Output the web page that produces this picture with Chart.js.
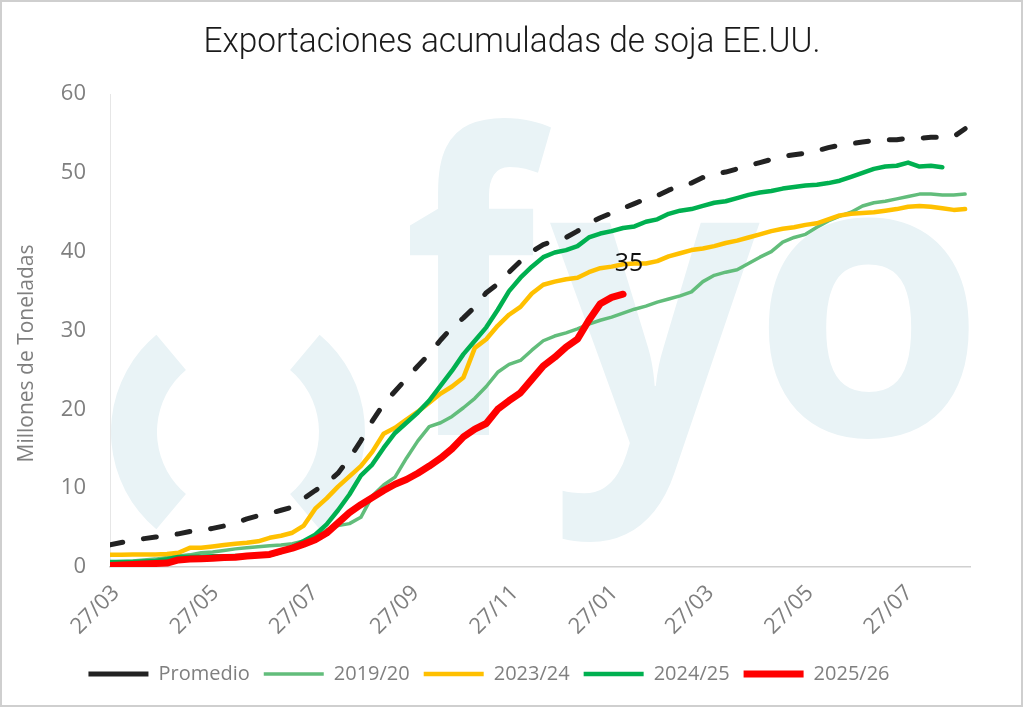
<!DOCTYPE html>
<html>
<head>
<meta charset="utf-8">
<title>Exportaciones acumuladas de soja EE.UU.</title>
<script src="https://cdn.jsdelivr.net/npm/chart.js@4.4.1/dist/chart.umd.min.js"></script>
<style>
  html, body { margin: 0; padding: 0; background: #ffffff; }
  #wrap { width: 1024px; height: 707px; position: relative; }
  canvas { display: block; }
</style>
</head>
<body>
<div id="wrap"><canvas id="grafico" width="1024" height="707"></canvas></div>
<script>
const titulo = 'Exportaciones acumuladas de soja EE.UU.';
const tituloEjeY = 'Millones de Toneladas';

// Días transcurridos desde el 27/03 para cada semana de la campaña
const semanas = Array.from({ length: 76 }, (_, i) => i * 7);

// Etiquetas del eje X y su posición en días desde el 27/03
const etiquetasX = ['27/03', '27/05', '27/07', '27/09', '27/11', '27/01', '27/03', '27/05', '27/07'];
const diasEtiquetas = [0, 61, 122, 184, 245, 306, 365, 426, 487];

// Exportaciones acumuladas (millones de toneladas)
const promedio = [
  2.8, 3.1, 3.4, 3.6, 3.8, 4.0, 4.2, 4.5, 4.6, 4.9,
  5.2, 5.6, 6.1, 6.5, 6.8, 7.2, 7.6, 8.7, 9.7, 10.6,
  11.9, 13.8, 16.0, 18.5, 20.7, 22.3, 23.9, 25.5, 27.0, 28.8,
  30.4, 31.6, 33.0, 34.8, 35.9, 37.4, 38.8, 40.0, 40.9, 41.4,
  41.8, 42.6, 43.6, 44.3, 44.9, 45.5, 46.1, 46.7, 47.1, 47.8,
  48.4, 48.7, 49.4, 49.9, 50.1, 50.5, 50.9, 51.3, 51.7, 52.1,
  52.3, 52.5, 52.8, 53.2, 53.5, 53.7, 53.9, 54.1, 54.2, 54.2,
  54.4, 54.4, 54.5, 54.5, 54.6, 55.6
];
const campana1920 = [
  0.64, 0.7, 0.77, 0.9, 1.0, 1.2, 1.4, 1.54, 1.8, 1.9,
  2.1, 2.3, 2.43, 2.56, 2.7, 2.8, 2.95, 3.3, 3.84, 4.7,
  5.25, 5.5, 6.3, 9.0, 10.4, 11.4, 13.8, 16.0, 17.8, 18.3,
  19.1, 20.2, 21.4, 22.9, 24.7, 25.7, 26.2, 27.5, 28.7, 29.3,
  29.7, 30.2, 30.8, 31.3, 31.7, 32.2, 32.7, 33.1, 33.6, 34.0,
  34.4, 34.9, 36.2, 37.0, 37.4, 37.7, 38.5, 39.3, 40.0, 41.2,
  41.8, 42.2, 43.1, 43.9, 44.5, 45.0, 45.8, 46.2, 46.4, 46.7,
  47.0, 47.3, 47.3, 47.2, 47.2, 47.3
];
const campana2324 = [
  1.54, 1.54, 1.6, 1.6, 1.6, 1.66, 1.8, 2.43, 2.43, 2.6,
  2.8, 2.95, 3.07, 3.26, 3.7, 3.97, 4.35, 5.25, 7.4, 8.7,
  10.2, 11.5, 12.8, 14.6, 16.9, 17.65, 18.7, 19.7, 20.85, 22.0,
  22.9, 24.05, 27.8, 28.9, 30.6, 32.0, 33.0, 34.7, 35.8, 36.2,
  36.5, 36.7, 37.4, 37.9, 38.1, 38.4, 38.5, 38.5, 38.8, 39.4,
  39.8, 40.2, 40.4, 40.7, 41.1, 41.4, 41.8, 42.2, 42.6, 42.9,
  43.1, 43.4, 43.6, 44.1, 44.6, 44.8, 44.9, 45.0, 45.2, 45.4,
  45.7, 45.8, 45.7, 45.5, 45.3, 45.4
];
const campana2425 = [
  0.64, 0.64, 0.64, 0.7, 0.77, 1.0, 1.28, 1.28, 1.3, 1.35,
  1.35, 1.4, 1.4, 1.45, 1.5, 1.9, 2.55, 3.3, 4.1, 5.4,
  7.2, 9.2, 11.6, 13.0, 15.1, 17.0, 18.3, 19.6, 21.1, 23.0,
  24.9, 27.0, 28.7, 30.4, 32.6, 35.0, 36.7, 38.1, 39.3, 39.9,
  40.2, 40.7, 41.8, 42.3, 42.6, 43.0, 43.2, 43.8, 44.1, 44.8,
  45.2, 45.4, 45.8, 46.2, 46.4, 46.8, 47.2, 47.5, 47.7, 48.0,
  48.2, 48.4, 48.5, 48.7, 49.0, 49.5, 50.0, 50.5, 50.8, 50.9,
  51.3, 50.8, 50.9, 50.7
];
const campana2526 = [
  0.2, 0.26, 0.32, 0.38, 0.45, 0.5, 0.9, 1.0, 1.05, 1.1,
  1.2, 1.25, 1.4, 1.5, 1.6, 2.0, 2.4, 2.9, 3.45, 4.3,
  5.6, 6.9, 7.9, 8.8, 9.7, 10.5, 11.1, 11.9, 12.8, 13.8,
  15.0, 16.5, 17.5, 18.2, 20.0, 21.1, 22.1, 23.8, 25.5, 26.6,
  27.9, 28.9, 31.3, 33.4, 34.2, 34.6
];

const GRIS = '#7f7f7f';
const FUENTE = "'Open Sans', 'DejaVu Sans', sans-serif";

// Logotipo de fondo dentro del área de trazado
const marcaAgua = {
  id: 'marcaAgua',
  beforeDatasetsDraw(chart) {
    const { ctx, chartArea: a } = chart;
    ctx.save();
    ctx.beginPath();
    ctx.rect(a.left, a.top, a.right - a.left, a.bottom - a.top);
    ctx.clip();
    ctx.fillStyle = '#e9f3f6';
    const cx = a.left + 128, cy = a.top + 338, R = 127, r = 81;
    const arcos = [[130, 230], [-50, 50]];
    arcos.forEach(([d1, d2]) => {
      const a1 = d1 * Math.PI / 180, a2 = d2 * Math.PI / 180;
      ctx.beginPath();
      ctx.arc(cx, cy, R, a1, a2);
      ctx.arc(cx, cy, r, a2, a1, true);
      ctx.closePath();
      ctx.fill();
    });
    const letras = [
      ['f', 300, 24, 442, 341],
      ['y', 440, 129, 650, 448],
      ['o', 657, 124, 859, 345]
    ];
    ctx.font = "700 200px 'Open Sans', sans-serif";
    ctx.textAlign = 'left';
    ctx.textBaseline = 'alphabetic';
    letras.forEach(([ch, x1, y1, x2, y2]) => {
      const m = ctx.measureText(ch);
      const w = m.actualBoundingBoxLeft + m.actualBoundingBoxRight;
      const h = m.actualBoundingBoxAscent + m.actualBoundingBoxDescent;
      ctx.save();
      ctx.translate(a.left + x1, a.top + y1);
      ctx.scale((x2 - x1) / w, (y2 - y1) / h);
      ctx.fillText(ch, m.actualBoundingBoxLeft, m.actualBoundingBoxAscent);
      ctx.restore();
    });
    ctx.restore();
  }
};

// Marco, título, título del eje Y y etiqueta del último dato de 2025/26
const extras = {
  id: 'extras',
  afterDraw(chart) {
    const { ctx, chartArea: a } = chart;
    ctx.save();
    ctx.strokeStyle = '#cfcfcf';
    ctx.lineWidth = 2;
    ctx.strokeRect(1, 1, 1021, 705);

    // Título centrado en el lienzo, tipografía estrecha
    ctx.fillStyle = '#1a1a1a';
    ctx.font = "300 35px Roboto, 'Open Sans', sans-serif";
    ctx.textAlign = 'center';
    ctx.textBaseline = 'alphabetic';
    const ancho = ctx.measureText(titulo).width;
    ctx.save();
    ctx.translate(chart.width / 2, 52);
    ctx.scale(617 / ancho, 1);
    ctx.fillText(titulo, 0, 0);
    ctx.restore();

    ctx.fillStyle = GRIS;
    ctx.font = "21px " + FUENTE;
    ctx.textAlign = 'center';
    ctx.textBaseline = 'middle';
    ctx.translate(27, (a.top + a.bottom) / 2 + 23);
    ctx.rotate(-Math.PI / 2);
    ctx.fillText(tituloEjeY, 0, 0);
    ctx.restore();

    const idx = chart.data.datasets.findIndex(d => d.label === '2025/26');
    const meta = chart.getDatasetMeta(idx);
    const ultimo = meta.data[meta.data.length - 1];
    const valor = campana2526[campana2526.length - 1];
    ctx.save();
    ctx.fillStyle = '#111111';
    ctx.font = "25px " + FUENTE;
    ctx.textAlign = 'center';
    ctx.textBaseline = 'middle';
    ctx.fillText(String(Math.round(valor)), ultimo.x + 6, ultimo.y - 30);
    ctx.restore();
  }
};

const serie = (label, data, color, width, order, extra) => Object.assign({
  label, data, borderColor: color, backgroundColor: color, borderWidth: width,
  pointRadius: 0, pointHoverRadius: 0, tension: 0, fill: false, order,
  borderCapStyle: 'round', borderJoinStyle: 'round'
}, extra || {});

new Chart(document.getElementById('grafico'), {
  type: 'line',
  data: {
    labels: semanas,
    datasets: [
      serie('Promedio', promedio, '#222222', 5, 1, { borderDash: [13, 21] }),
      serie('2019/20', campana1920, '#62bd7b', 3.5, 4),
      serie('2023/24', campana2324, '#ffc000', 4.5, 3),
      serie('2024/25', campana2425, '#00b050', 4.5, 2),
      serie('2025/26', campana2526, '#ff0000', 7, 0)
    ]
  },
  options: {
    responsive: false,
    animation: false,
    devicePixelRatio: 1,
    layout: { padding: { left: 8, right: 54, top: 94, bottom: 13 } },
    plugins: {
      title: { display: false },
      legend: {
        position: 'bottom',
        align: 'center',
        labels: {
          usePointStyle: true,
          pointStyle: 'line',
          pointStyleWidth: 60,
          boxHeight: 20,
          padding: 14,
          color: GRIS,
          font: { family: FUENTE, size: 20 },
          sort: (x, y) => x.datasetIndex - y.datasetIndex
        }
      },
      tooltip: { enabled: false }
    },
    scales: {
      x: {
        type: 'linear',
        min: 0,
        max: 528,
        grid: { display: false, drawTicks: false },
        border: { display: true, color: '#d0d0d0', width: 1.5 },
        afterBuildTicks: s => { s.ticks = diasEtiquetas.map(v => ({ value: v })); },
        afterFit: s => { s.height = 83; },
        ticks: {
          autoSkip: false,
          minRotation: 45,
          maxRotation: 45,
          padding: 13,
          labelOffset: 6,
          color: GRIS,
          font: { family: FUENTE, size: 22 },
          callback: (v, i) => etiquetasX[i]
        }
      },
      y: {
        min: 0,
        max: 60,
        grid: { display: false, drawTicks: false },
        border: { display: true, color: '#e6e6e6', width: 1 },
        afterFit: s => { s.width = 102; },
        ticks: {
          stepSize: 10,
          padding: 24,
          color: GRIS,
          font: { family: FUENTE, size: 22 }
        }
      }
    }
  },
  plugins: [marcaAgua, extras]
});
</script>
</body>
</html>
